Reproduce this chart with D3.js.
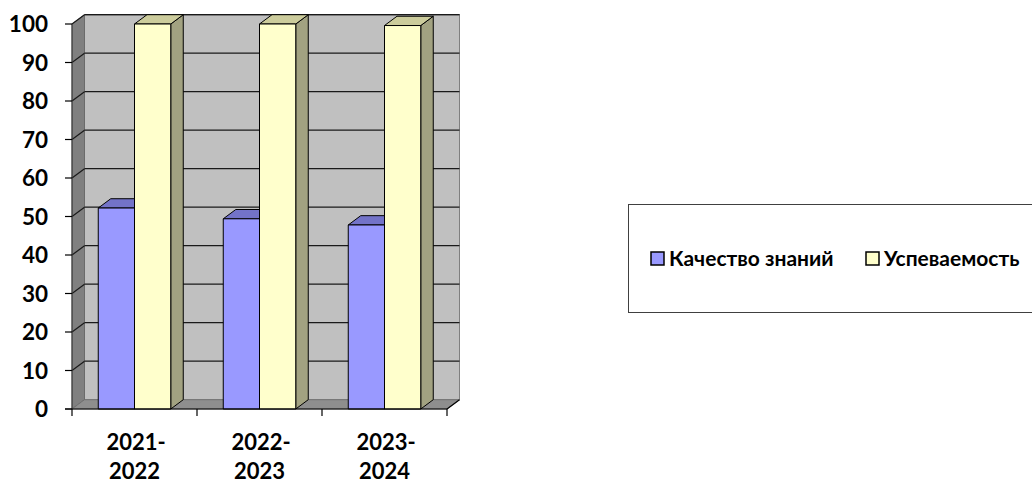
<!DOCTYPE html>
<html><head><meta charset="utf-8">
<script src="https://cdn.jsdelivr.net/npm/d3@7"></script>
<style>html,body{margin:0;padding:0;background:#fff;}svg{display:block;}</style>
</head><body>
<svg id="c" width="1032" height="485"></svg>
<script>
const categories = [["2021-","2022"],["2022-","2023"],["2023-","2024"]];
const seriesNames = ["Качество знаний","Успеваемость"];
const quality = [52.2, 49.4, 47.8];
const success = [100, 100, 99.6];
const yTicks = [0,10,20,30,40,50,60,70,80,90,100];

const fronts = ["#9999ff","#ffffcc"];
const tops = ["#7373c8","#cccc9c"];
const sides = ["#5c5ca0","#a2a281"];

const svg = d3.select("#c");
const DX = 12.5, DY = -9.3;
const x = d3.scaleBand().domain(d3.range(categories.length)).range([72, 447]);
const y = d3.scaleLinear().domain([0,100]).range([409, 24]);
const gw = x.bandwidth()*0.58;
const x1 = d3.scaleBand().domain(d3.range(seriesNames.length)).range([0, gw]);
const font = "Lato, 'Open Sans', sans-serif";

const x0 = x.range()[0], xe = x.range()[1];
const y0 = y(0), yT = y(100);
const pts = a => a.map(p => p.join(",")).join(" ");

// back wall
svg.append("polygon").attr("points", pts([[x0+DX,yT+DY],[xe+DX,yT+DY],[xe+DX,y0+DY],[x0+DX,y0+DY]]))
  .attr("fill","#c0c0c0").attr("stroke","#808080").attr("stroke-width",1);
svg.append("line").attr("x1",x0+DX).attr("x2",xe+DX).attr("y1",yT+DY).attr("y2",yT+DY).attr("stroke","#555").attr("stroke-width",1.2);
// side wall
svg.append("polygon").attr("points", pts([[x0,yT],[x0+DX,yT+DY],[x0+DX,y0+DY],[x0,y0]]))
  .attr("fill","#808080").attr("stroke","#666").attr("stroke-width",0.8);
// floor
svg.append("polygon").attr("points", pts([[x0,y0],[x0+DX,y0+DY],[xe+DX,y0+DY],[xe,y0]]))
  .attr("fill","#8e8e8e").attr("stroke","#6a6a6a").attr("stroke-width",0.8);

// gridlines
const g = svg.append("g");
yTicks.forEach(t => {
  if (t === 0) return;
  g.append("line").attr("x1",x0+DX).attr("x2",xe+DX).attr("y1",y(t)+DY).attr("y2",y(t)+DY).attr("stroke","#1a1a1a").attr("stroke-width",1.2);
  g.append("line").attr("x1",x0).attr("x2",x0+DX).attr("y1",y(t)).attr("y2",y(t)+DY).attr("stroke","#1a1a1a").attr("stroke-width",1.2);
});

// y axis
svg.append("line").attr("x1",x0).attr("x2",x0).attr("y1",yT).attr("y2",y0).attr("stroke","#333").attr("stroke-width",1);
yTicks.forEach(t => {
  svg.append("line").attr("x1",x0-7).attr("x2",x0).attr("y1",y(t)).attr("y2",y(t)).attr("stroke","#000").attr("stroke-width",1.2);
  svg.append("text").attr("x",48).attr("y",y(t)).attr("dy","0.36em").attr("text-anchor","end")
    .attr("font-family",font).attr("font-weight","bold").attr("font-size",22.5).attr("fill","#000").text(t);
});

// bars
const data = [quality, success];
categories.forEach((c,i) => {
  const gx = x(i) + (x.bandwidth()-gw)/2;
  data.forEach((vals, s) => {
    const bx = gx + x1(s), bw = x1.bandwidth();
    const by = y(vals[i]);
    const bg = svg.append("g").attr("stroke","#000").attr("stroke-width",1).attr("stroke-linejoin","round");
    bg.append("polygon").attr("points", pts([[bx+bw,by],[bx+bw+DX,by+DY],[bx+bw+DX,y0+DY],[bx+bw,y0]])).attr("fill",sides[s]);
    bg.append("polygon").attr("points", pts([[bx,by],[bx+DX,by+DY],[bx+bw+DX,by+DY],[bx+bw,by]])).attr("fill",tops[s]);
    bg.append("rect").attr("x",bx).attr("y",by).attr("width",bw).attr("height",y0-by).attr("fill",fronts[s]);
  });
});

// x axis
svg.append("line").attr("x1",x0-7).attr("x2",xe).attr("y1",y0).attr("y2",y0).attr("stroke","#000").attr("stroke-width",1.2);
svg.append("line").attr("x1",xe).attr("x2",xe+DX).attr("y1",y0).attr("y2",y0+DY).attr("stroke","#000").attr("stroke-width",1.2);
d3.range(categories.length+1).forEach(k => {
  const tx = k < categories.length ? x(k) : xe;
  svg.append("line").attr("x1",tx).attr("x2",tx).attr("y1",y0).attr("y2",y0+7).attr("stroke","#000").attr("stroke-width",1.2);
});
categories.forEach((c,i) => {
  const cx = x(i) + x.bandwidth()/2;
  c.forEach((line, li) => {
    svg.append("text").attr("x", cx + (li===0?1.5:0)).attr("y", 450 + li*29).attr("text-anchor","middle")
      .attr("font-family",font).attr("font-weight","bold").attr("font-size",22).attr("fill","#000").text(line);
  });
});

// legend
svg.append("rect").attr("x",628.5).attr("y",204.5).attr("width",420).attr("height",108).attr("fill","#fff").attr("stroke","#404040").attr("stroke-width",1);
const lx = [651, 866];
seriesNames.forEach((n,s) => {
  svg.append("rect").attr("x",lx[s]).attr("y",252).attr("width",13).attr("height",13).attr("fill",fronts[s]).attr("stroke","#000").attr("stroke-width",1.5);
  svg.append("text").attr("x",lx[s]+18).attr("y",266).attr("font-family",font).attr("font-weight","bold").attr("font-size",21).attr("fill","#000").text(n);
});
</script>
</body></html>
